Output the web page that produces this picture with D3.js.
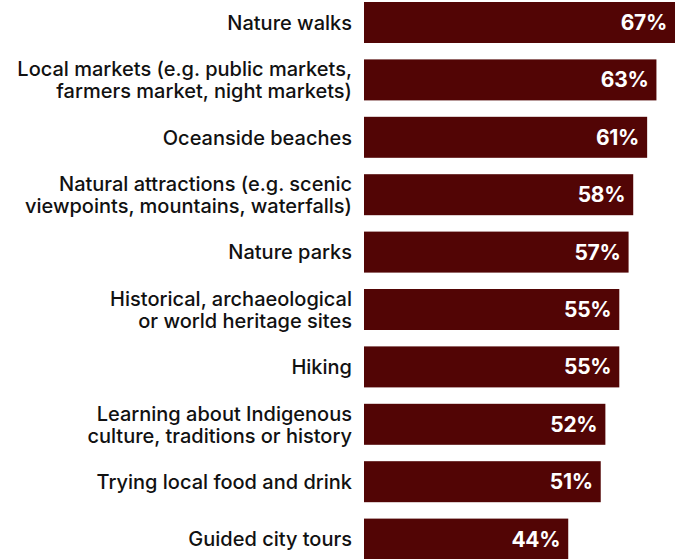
<!DOCTYPE html>
<html>
<head>
<meta charset="utf-8">
<script src="https://cdn.jsdelivr.net/npm/d3@7"></script>
<style>
  html, body { margin: 0; padding: 0; background: #fff; }
  svg { display: block; }
</style>
</head>
<body>
<div id="root"></div>
<script>
const width = 686,
      height = 559

const labels = [
  ['Nature walks'],
  ['Local markets (e.g. public markets,', 'farmers market, night markets)'],
  ['Oceanside beaches'],
  ['Natural attractions (e.g. scenic', 'viewpoints, mountains, waterfalls)'],
  ['Nature parks'],
  ['Historical, archaeological', 'or world heritage sites'],
  ['Hiking'],
  ['Learning about Indigenous', 'culture, traditions or history'],
  ['Trying local food and drink'],
  ['Guided city tours']
]
const values = [67, 63, 61, 58, 57, 55, 55, 52, 51, 44]

const data = values.map((v, i) => ({ i, value: v, lines: labels[i] }))

const svg = d3.select('#root')
  .append('svg')
  .attr('width', width)
  .attr('height', height)

const x = d3.scaleLinear()
  .domain([0, 67])
  .range([364, 675])

// step ~57.4px, bar ~41px
const y = d3.scaleBand()
  .domain(d3.range(values.length))
  .range([2, 2 + 57.4 * 9 + 41])
  .paddingInner(16.4 / 57.4)
  .paddingOuter(0)

const row = svg.selectAll('g.row')
  .data(data)
  .enter().append('g')
  .attr('class', 'row')

row.append('rect')
  .attr('x', x(0))
  .attr('y', d => y(d.i))
  .attr('width', d => x(d.value) - x(0))
  .attr('height', y.bandwidth())
  .attr('fill', '#520505')

row.append('text')
  .attr('x', d => x(d.value) - 8)
  .attr('y', d => y(d.i) + y.bandwidth() / 2)
  .attr('dy', '0.36em')
  .attr('text-anchor', 'end')
  .attr('fill', '#fff')
  .style('font-family', 'Inter, "Liberation Sans", sans-serif')
  .style('font-weight', 700)
  .style('font-size', '21px')
  .style('letter-spacing', '-0.3px')
  .text(d => d.value + '%')

const lineH = 22
row.append('text')
  .attr('text-anchor', 'end')
  .attr('fill', '#111')
  .style('font-family', 'Inter, "Liberation Sans", sans-serif')
  .style('font-weight', 500)
  .style('font-size', '20px')
  .each(function(d) {
    const t = d3.select(this)
    const cy = y(d.i) + y.bandwidth() / 2
    const n = d.lines.length
    d.lines.forEach((l, k) => {
      t.append('tspan')
        .attr('x', 352)
        .attr('y', cy + (k - (n - 1) / 2) * lineH)
        .attr('dy', '0.36em')
        .text(l)
    })
  })
</script>
</body>
</html>
